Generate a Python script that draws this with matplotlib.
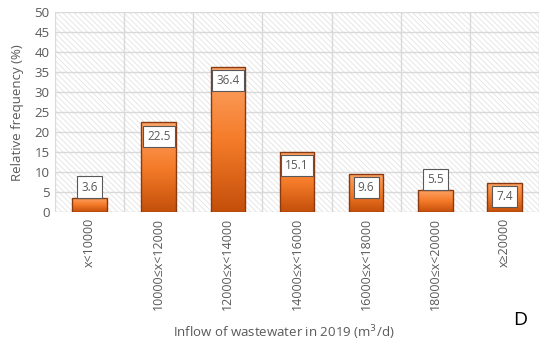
import matplotlib
matplotlib.use('Agg')
import matplotlib.pyplot as plt
import numpy as np
from matplotlib.colors import LinearSegmentedColormap

categories = ['x<10000', '10000≤x<12000', '12000≤x<14000', '14000≤x<16000',
              '16000≤x<18000', '18000≤x<20000', 'x≥20000']
values = [3.6, 22.5, 36.4, 15.1, 9.6, 5.5, 7.4]
yticks = list(range(0, 55, 5))

plt.rcParams['font.family'] = ['Open Sans', 'DejaVu Sans']
plt.rcParams['hatch.color'] = '#d9d9d9'
plt.rcParams['hatch.linewidth'] = 0.6
grey = '#595959'

fig = plt.figure(figsize=(5.5, 3.48), dpi=100)
ax = fig.add_axes([0.1, 0.39, 0.88, 0.575])

x = np.arange(len(categories))
ax.set_xlim(-0.5, len(categories) - 0.5)
ax.set_ylim(0, 50)

# hatched background
ax.patch.set_facecolor('white')
ax.patch.set_hatch('\\\\\\\\\\\\')
ax.patch.set_edgecolor('#e3e3e3')

# grid
for yv in yticks:
    ax.axhline(yv, color='#d9d9d9', lw=1, zorder=1)
for xv in np.arange(-0.5, len(categories), 1):
    ax.axvline(xv, color='#d9d9d9', lw=1, zorder=1)

cmap = LinearSegmentedColormap.from_list('org', ['#c44f0a', '#f57c2a', '#fda66a'])
grad = np.linspace(0, 1, 256).reshape(-1, 1)
bars = ax.bar(x, values, width=0.5, facecolor='none', edgecolor='#8a3a10', lw=1, zorder=3)
for b in bars:
    bx, by = b.get_x(), b.get_y()
    w, h = b.get_width(), b.get_height()
    im = ax.imshow(grad, cmap=cmap, aspect='auto', origin='lower',
                   extent=[bx, bx + w, by, by + h], zorder=2)
    im.set_clip_path(b)

for xi, v in zip(x, values):
    if v > 7:
        ypos = v - 3.5
    else:
        ypos = v + 2.7
    ax.text(xi, ypos, '%.1f' % v, ha='center', va='center', fontsize=8.5, color=grey, zorder=5,
            bbox=dict(boxstyle='square,pad=0.35', fc='white', ec='#595959', lw=0.8))

ax.set_xticks(x)
ax.set_xticklabels(categories, rotation=90, fontsize=9, color=grey)
ax.set_yticks(yticks)
ax.set_yticklabels([str(t) for t in yticks], fontsize=9.5, color=grey)
ax.tick_params(length=0, pad=4)
for s in ax.spines.values():
    s.set_visible(False)

ax.set_ylabel('Relative frequency (%)', fontsize=9.5, color=grey)
ax.yaxis.set_label_coords(-0.065, 0.5)
fig.text(0.515, 0.045, 'Inflow of wastewater in 2019 (m$^3$/d)', fontsize=9.5,
         color=grey, ha='center', va='center')
fig.text(0.945, 0.08, 'D', fontsize=14, color='black', ha='center', va='center')

fig.savefig('out.png', dpi=100)
